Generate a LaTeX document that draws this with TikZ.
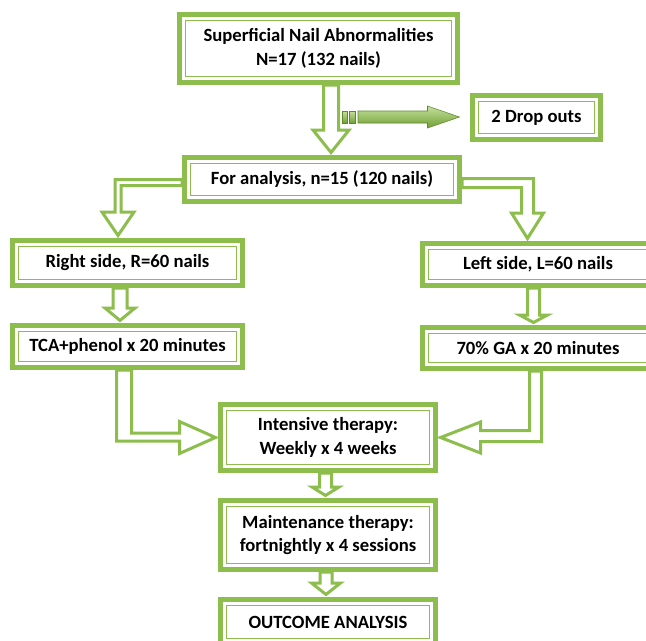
\documentclass[tikz,border=0pt]{standalone}
\usepackage{fontspec}
\setmainfont{Carlito}
\usetikzlibrary{calc}
\pgfdeclarelayer{bg}
\pgfsetlayers{bg,main}
\definecolor{gr}{RGB}{141,189,77}
\definecolor{grd}{RGB}{112,160,52}
\definecolor{grl}{RGB}{196,224,156}
\newcommand\PX[1]{(#1)*0.75pt}
\newcommand\PY[1]{-(#1)*0.75pt}
\tikzset{
  box/.style={draw=gr, line width=3.75pt, fill=white, inner sep=0pt, align=center,
    font=\fontsize{14}{17.5}\selectfont\bfseries, text=black,
    path picture={\draw[gr, line width=1.1pt]
      ([shift={(4.5pt,-4.5pt)}]path picture bounding box.north west) rectangle
      ([shift={(-4.5pt,4.5pt)}]path picture bounding box.south east);}},
  sz/.style 2 args={minimum width=#1*0.75pt, minimum height=#2*0.75pt},
  hollow/.style={draw=gr, line width=2.25pt, fill=white, line join=miter},
  solidarrow/.style={top color=grl, bottom color=grd, draw=grd!85!black, line width=0.4pt}
}
% upper node, lower node, x centre, shaft half width, head half width, head base y (px)
\newcommand\vblk[6]{%
  \draw[hollow] let \p1=(#1.south), \p2=(#2.north) in
   ({\PX{#3-#4}},\y1) -- ({\PX{#3-#4}},{\PY{#6}}) -- ({\PX{#3-#5}},{\PY{#6}})
   -- ({\PX{#3}},{\y2+1.9pt}) -- ({\PX{#3+#5}},{\PY{#6}}) -- ({\PX{#3+#4}},{\PY{#6}})
   -- ({\PX{#3+#4}},\y1) -- cycle;}
\begin{document}
\begin{tikzpicture}[x=0.75pt,y=-0.75pt]
\useasboundingbox (0,0) rectangle (646,640);

\node[box, sz={278}{68}] (T) at (318.5,48.5) {Superficial Nail Abnormalities\\N=17 (132 nails)};
\node[box, sz={128}{44}] (D) at (536.5,117.5) {2 Drop outs};
\node[box, sz={275}{44}] (A) at (322,179.5) {For analysis, n=15 (120 nails)};
\node[box, sz={230}{45}] (R) at (127.5,263) {Right side, R=60 nails};
\node[box, sz={231}{42}] (L) at (538,264.5) {Left side, L=60 nails};
\node[box, sz={230}{42}] (TC) at (127.5,346.5) {TCA+phenol x 20 minutes};
\node[box, sz={231}{41}] (G) at (538,348) {70\% GA x 20 minutes};
\node[box, sz={215}{66}] (I) at (328,437.5) {Intensive therapy:\\Weekly x 4 weeks};
\node[box, sz={215}{69}] (M) at (328,535) {Maintenance therapy:\\fortnightly x 4 sessions};
\node[box, sz={215}{45}] (O) at (328,622) {OUTCOME ANALYSIS};

\coordinate (s) at (340,117);

\begin{pgfonlayer}{bg}
\fill[white] (0,0) rectangle (646,640);
\vblk{T}{A}{331}{7.5}{18}{130}
\vblk{R}{TC}{120}{7}{15}{308}
\vblk{L}{G}{533.5}{6}{14}{315}
\vblk{I}{M}{325.5}{6}{13.5}{487}
\vblk{M}{O}{326}{6}{14.5}{583}

% For analysis -> Right side
\draw[hollow] let \p1=(A.west), \p2=(R.north) in
 (\x1,{\PY{179.5}}) -- ({\PX{115}},{\PY{179.5}}) -- ({\PX{115}},{\PY{212}})
 -- ({\PX{102}},{\PY{212}}) -- ({\PX{118}},{\y2+1.9pt}) -- ({\PX{134}},{\PY{212}})
 -- ({\PX{121}},{\PY{212}}) -- ({\PX{121}},{\PY{185.5}}) -- (\x1,{\PY{185.5}}) -- cycle;
% For analysis -> Left side
\draw[hollow] let \p1=(A.east), \p2=(L.north) in
 (\x1,{\PY{178.5}}) -- ({\PX{533.5}},{\PY{178.5}}) -- ({\PX{533.5}},{\PY{213}})
 -- ({\PX{543.5}},{\PY{213}}) -- ({\PX{527.5}},{\y2+1.9pt}) -- ({\PX{511.5}},{\PY{213}})
 -- ({\PX{521.5}},{\PY{213}}) -- ({\PX{521.5}},{\PY{187.5}}) -- (\x1,{\PY{187.5}}) -- cycle;
% TCA -> Intensive
\draw[hollow] let \p1=(TC.south), \p2=(I.west) in
 ({\PX{116.5}},\y1) -- ({\PX{116.5}},{\PY{441}}) -- ({\PX{179.5}},{\PY{441}})
 -- ({\PX{179.5}},{\y2-16*0.75pt}) -- ({\x2-1.9pt},\y2) -- ({\PX{179.5}},{\y2+16*0.75pt})
 -- ({\PX{179.5}},{\PY{433}}) -- ({\PX{131.5}},{\PY{433}}) -- ({\PX{131.5}},\y1) -- cycle;
% GA -> Intensive
\draw[hollow] let \p1=(G.south), \p2=(I.east) in
 ({\PX{541.5}},\y1) -- ({\PX{541.5}},{\PY{441.5}}) -- ({\PX{480.5}},{\PY{441.5}})
 -- ({\PX{480.5}},{\y2-15.5*0.75pt}) -- ({\x2+1.9pt},\y2) -- ({\PX{480.5}},{\y2+15.5*0.75pt})
 -- ({\PX{480.5}},{\PY{430.5}}) -- ({\PX{529.5}},{\PY{430.5}}) -- ({\PX{529.5}},\y1) -- cycle;
% drop-out arrow
\shadedraw[solidarrow] let \p1=(s), \p2=(D.west) in
 ({\x1+18*0.75pt},{\y1+6*0.75pt}) -- ({\x2-42.5*0.75pt},{\y1+6*0.75pt})
 -- ({\x2-42.5*0.75pt},{\y1+11*0.75pt}) -- ({\x2-10.5*0.75pt},\y1)
 -- ({\x2-42.5*0.75pt},{\y1-11*0.75pt}) -- ({\x2-42.5*0.75pt},{\y1-6*0.75pt})
 -- ({\x1+18*0.75pt},{\y1-6*0.75pt}) -- cycle;
\shadedraw[solidarrow] let \p1=(s) in
 ({\x1+2*0.75pt},{\y1+6*0.75pt}) rectangle ({\x1+7*0.75pt},{\y1-6*0.75pt});
\shadedraw[solidarrow] let \p1=(s) in
 ({\x1+9*0.75pt},{\y1+6*0.75pt}) rectangle ({\x1+15*0.75pt},{\y1-6*0.75pt});
\end{pgfonlayer}
\end{tikzpicture}
\end{document}
